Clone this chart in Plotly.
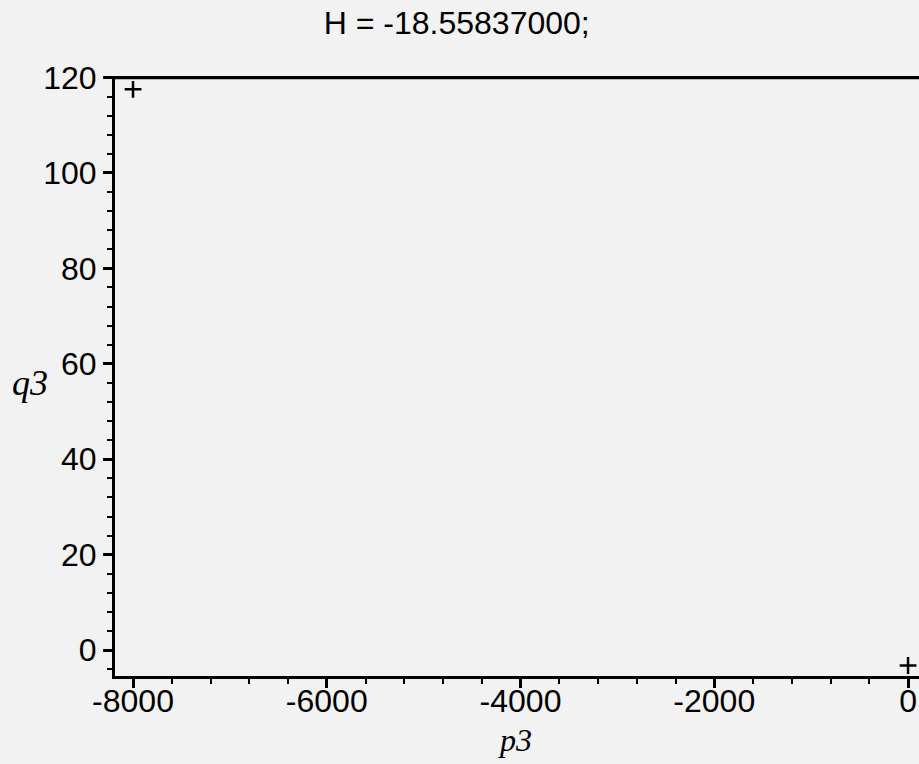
import plotly.graph_objects as go

# data
p3_curve = [-8200, 200]
q3_curve = [120, 120]
p3_marks = [-8000, 0]
q3_marks = [117.5, -3.2]
x_ticks = [-8000, -6000, -4000, -2000, 0]
y_ticks = [0, 20, 40, 60, 80, 100, 120]
title_text = "H = -18.55837000;"

FONT = "Liberation Sans"
BG = "#f2f2f2"

fig = go.Figure()
fig.add_trace(go.Scatter(x=p3_curve, y=q3_curve, mode="lines",
                         line=dict(color="black", width=3.5), showlegend=False,
                         cliponaxis=False))
fig.add_trace(go.Scatter(x=p3_marks, y=q3_marks, mode="markers",
                         marker=dict(symbol="cross-thin", size=12,
                                     line=dict(color="black", width=2.5)),
                         showlegend=False, cliponaxis=False))

fig.update_layout(
    width=919, height=764,
    margin=dict(l=115, r=0, t=76, b=88),
    paper_bgcolor=BG, plot_bgcolor=BG,
    title=dict(text=title_text, x=0.497, xanchor="center", y=0.97, yanchor="middle",
               font=dict(family=FONT, size=32, color="black")),
    font=dict(family=FONT, color="black"),
    showlegend=False,
)
fig.update_xaxes(
    range=[-8186, 113], showgrid=False, zeroline=False,
    showline=True, linecolor="black", linewidth=3,
    tickmode="array", tickvals=x_ticks, ticktext=[str(v) for v in x_ticks],
    ticks="outside", ticklen=9, tickwidth=2.5, tickcolor="black",
    ticklabelstandoff=-14,
    minor=dict(dtick=400, tick0=0, ticks="outside", ticklen=5, tickwidth=2, tickcolor="black"),
    tickfont=dict(family=FONT, size=32, color="black"),
)
fig.update_yaxes(
    range=[-5.4, 120.3], showgrid=False, zeroline=False,
    showline=True, linecolor="black", linewidth=3,
    tickmode="array", tickvals=y_ticks, ticktext=[str(v) for v in y_ticks],
    ticks="outside", ticklen=9, tickwidth=2.5, tickcolor="black",
    minor=dict(dtick=4, tick0=0, ticks="outside", ticklen=5, tickwidth=2, tickcolor="black"),
    tickfont=dict(family=FONT, size=32, color="black"),
)
fig.add_annotation(text="<i>q3</i>", xref="paper", yref="paper", x=-0.13, y=0.488,
                   xanchor="left", yanchor="middle", showarrow=False,
                   font=dict(family="Liberation Serif", size=36, color="black"))
fig.add_annotation(text="<i>p3</i>", xref="paper", yref="paper", x=0.497, y=-0.106,
                   xanchor="center", yanchor="middle", showarrow=False,
                   font=dict(family="Liberation Serif", size=32, color="black"))

fig.write_html("out.html", config={"displayModeBar": False},
               post_script="document.body.style.margin='0px';document.body.style.overflow='hidden';")
